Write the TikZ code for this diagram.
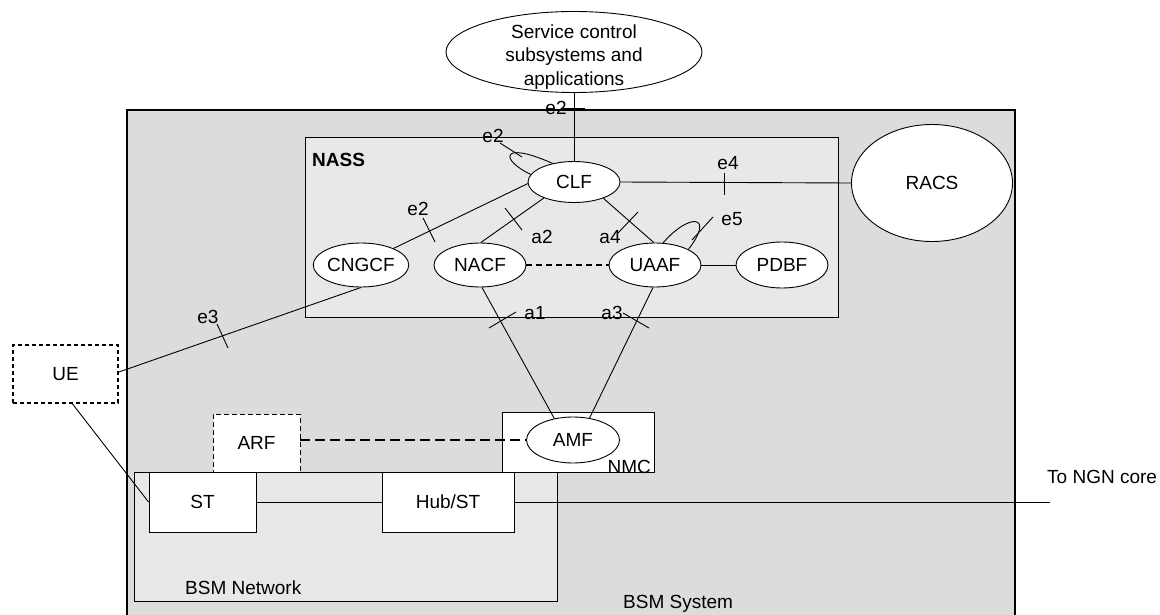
\documentclass[tikz,border=0pt]{standalone}
\usepackage{fontspec}
\setmainfont{Liberation Sans}
\usetikzlibrary{shapes.geometric}
\definecolor{bsmgray}{RGB}{220,220,220}
\definecolor{nassgray}{RGB}{232,232,232}
\begin{document}
\begin{tikzpicture}[x=1pt,y=-1pt,
  every node/.style={font=\fontsize{19}{23.5}\selectfont},
  ln/.style={line width=0.9pt},
  fn/.style={ellipse,draw,line width=0.9pt,fill=white,inner sep=0pt,minimum width=92pt,minimum height=44pt},
  box/.style={rectangle,draw,line width=0.9pt,fill=white,inner sep=0pt},
  area/.style={rectangle,draw,line width=0.9pt,inner sep=0pt},
  lbl/.style={inner sep=0pt},
  tickmark/.style={line width=0.9pt}]
\clip (0,0) rectangle (1160,615);
\fill[white] (0,0) rectangle (1160,615);
% containers
\node[area,fill=bsmgray,minimum width=888pt,minimum height=520pt,line width=1.2pt] (bsm) at (571,370) {};
\node[area,fill=nassgray,minimum width=533pt,minimum height=180pt] (nass) at (571.5,227) {};
\node[area,fill=nassgray,minimum width=423pt,minimum height=129pt] (bsmnet) at (345.5,536.5) {};
\node[box,minimum width=152pt,minimum height=60pt] (nmc) at (578,442) {};
% functional entities
\node[ellipse,draw,line width=0.9pt,fill=white,inner sep=0pt,minimum width=256pt,minimum height=81pt] (svc) at (574,52) {};
\node[lbl,align=center] (svct) at (574,57) {Service control\\subsystems and\\applications};
\node[fn,minimum height=41pt] (clf) at (574,182) {CLF};
\node[fn,minimum width=161pt,minimum height=117pt] (racs) at (932,183) {RACS};
\node[fn] (cngcf) at (361,265) {CNGCF};
\node[fn] (nacf) at (480,265) {NACF};
\node[fn] (uaaf) at (655,265) {UAAF};
\node[fn,minimum height=46pt] (pdbf) at (782,265) {PDBF};
\node[fn,minimum width=93pt,minimum height=46pt] (amf) at (573,440) {AMF};
\node[box,minimum width=107pt,minimum height=60pt] (st) at (202.5,502) {ST};
\node[box,minimum width=132pt,minimum height=60pt] (hub) at (448,502) {Hub/ST};
\node[box,dashed,dash pattern=on 5pt off 3pt,minimum width=87pt,minimum height=58pt] (arf) at (256.5,443) {ARF};
\node[box,line width=1.8pt,dash pattern=on 4pt off 3pt,minimum width=105pt,minimum height=58pt] (ue) at (65.5,374) {UE};
\coordinate (ngn) at (1050,502);
% area labels
\node[lbl,anchor=west,font=\fontsize{19}{23}\selectfont\bfseries] (nasslbl) at (312,160) {NASS};
\node[lbl,anchor=base east] (nmclbl) at (651,473) {NMC};
\node[lbl,anchor=west] (bsmnetlbl) at (185,588) {BSM Network};
\node[lbl,anchor=west] (bsmlbl) at (623,604) {BSM System};
\node[lbl,anchor=west] (ngnlbl) at (1047,477) {To NGN core};
% connectors
\draw[ln] (svc.south) -- (clf.north);
\draw[ln] (clf.east) -- (racs.west);
\draw[ln] (cngcf.27) -- (clf.182);
\draw[ln] (nacf.88) -- (clf.208);
\draw[ln] (uaaf.93) -- (clf.331);
\draw[ln,dashed,line width=1.5pt,dash pattern=on 6pt off 4pt] (nacf.east) -- (uaaf.west);
\draw[ln] (uaaf.east) -- (pdbf.west);
\draw[ln] (nacf.-85) -- (amf.131);
\draw[ln] (uaaf.265) -- (amf.53);
\draw[line width=2.2pt,dash pattern=on 10pt off 5pt] (arf.east |- amf.west) -- (amf.west);
\draw[ln] (ue.east) ++(0,-2) coordinate (uee) -- (cngcf.south);
\draw[ln] (ue.south) ++(7,0) coordinate (ues) -- (st.west);
\draw[ln] (st.east) -- (hub.west);
\draw[ln] (hub.east) -- (ngn);
% self loops
\draw[ln] (clf.139) .. controls (500,140) and (500,160) .. (clf.170);
\draw[ln] (uaaf.70) .. controls (690,212) and (715,215) .. (uaaf.25);
% interface labels and ticks
\node[lbl] (e2a) at (556,108) {e2};
\draw[tickmark] (563,108) -- (585,108);
\node[lbl] (e2b) at (493,136) {e2};
\draw[tickmark] (500,143) -- (522,157);
\node[lbl] (e2c) at (418,209) {e2};
\draw[tickmark] (423,218) -- (435,242);
\node[lbl] (a2) at (542,237) {a2};
\draw[tickmark] (505,208) -- (522,230);
\node[lbl] (a4) at (610,237) {a4};
\draw[tickmark] (618,233) -- (638,212);
\node[lbl] (e4) at (728,163) {e4};
\draw[tickmark] (724,173) -- (724,195);
\node[lbl] (e5) at (732,219) {e5};
\draw[tickmark] (692,240) -- (713,217);
\node[lbl] (a1) at (535,313) {a1};
\draw[tickmark] (489,328) -- (516,312);
\node[lbl] (a3) at (612,313) {a3};
\draw[tickmark] (623,313) -- (649,328);
\node[lbl] (e3) at (208,317) {e3};
\draw[tickmark] (217,324) -- (228,348);
\end{tikzpicture}
\end{document}
